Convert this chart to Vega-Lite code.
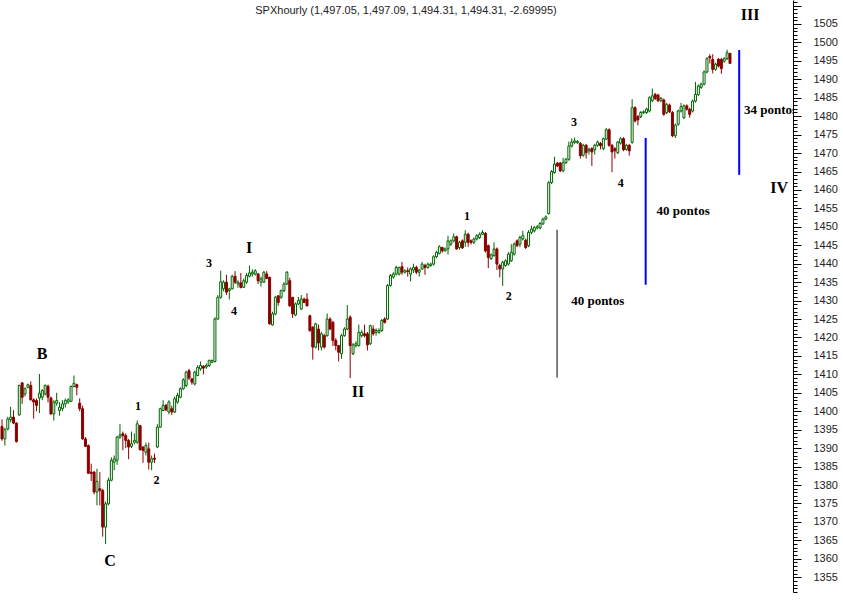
{
"$schema":"https://vega.github.io/schema/vega-lite/v6.json",
"width":792,"height":592,"padding":0,"autosize":{"type":"pad"},"background":"white",
"title":{"text":"SPXhourly (1,497.05, 1,497.09, 1,494.31, 1,494.31, -2.69995)","font":"Liberation Sans","fontSize":11,"fontWeight":"normal","color":"#222","offset":-16,"dx":9,"anchor":"middle","frame":"group"},
"config":{"view":{"stroke":null}},
"datasets":{
"candles":[
{"t":1,"o":1395.9,"h":1397.8,"l":1392.0,"c":1392.5},
{"t":2,"o":1392.5,"h":1395.5,"l":1390.7,"c":1395.0},
{"t":3,"o":1395.2,"h":1398.5,"l":1394.8,"c":1397.9},
{"t":4,"o":1397.7,"h":1401.2,"l":1397.0,"c":1398.4},
{"t":5,"o":1398.4,"h":1400.3,"l":1396.5,"c":1396.8},
{"t":6,"o":1396.8,"h":1397.0,"l":1391.5,"c":1391.8},
{"t":7,"o":1399.0,"h":1407.2,"l":1398.8,"c":1407.0},
{"t":8,"o":1407.7,"h":1407.9,"l":1402.0,"c":1403.8},
{"t":9,"o":1404.7,"h":1406.5,"l":1404.0,"c":1406.1},
{"t":10,"o":1406.5,"h":1407.5,"l":1406.2,"c":1407.2},
{"t":11,"o":1407.0,"h":1408.1,"l":1402.9,"c":1403.1},
{"t":12,"o":1403.1,"h":1403.5,"l":1398.0,"c":1402.5},
{"t":13,"o":1402.9,"h":1403.5,"l":1400.0,"c":1401.6},
{"t":14,"o":1403.6,"h":1410.1,"l":1399.5,"c":1404.9},
{"t":15,"o":1403.8,"h":1406.0,"l":1403.0,"c":1405.6},
{"t":16,"o":1404.7,"h":1407.3,"l":1404.3,"c":1407.0},
{"t":17,"o":1406.8,"h":1407.2,"l":1402.4,"c":1403.8},
{"t":18,"o":1403.6,"h":1404.0,"l":1399.0,"c":1399.3},
{"t":19,"o":1399.3,"h":1403.0,"l":1397.5,"c":1402.5},
{"t":20,"o":1402.2,"h":1405.0,"l":1401.5,"c":1402.9},
{"t":21,"o":1400.2,"h":1402.5,"l":1398.8,"c":1401.1},
{"t":22,"o":1400.7,"h":1403.0,"l":1400.0,"c":1402.0},
{"t":23,"o":1402.0,"h":1403.5,"l":1401.0,"c":1402.9},
{"t":24,"o":1402.5,"h":1403.5,"l":1402.0,"c":1403.1},
{"t":25,"o":1402.7,"h":1407.0,"l":1402.5,"c":1406.7},
{"t":26,"o":1406.7,"h":1409.7,"l":1406.5,"c":1407.6},
{"t":27,"o":1407.2,"h":1407.5,"l":1404.3,"c":1406.5},
{"t":28,"o":1402.2,"h":1403.5,"l":1400.0,"c":1400.7},
{"t":29,"o":1400.7,"h":1401.5,"l":1392.3,"c":1392.5},
{"t":30,"o":1392.5,"h":1393.0,"l":1390.3,"c":1390.5},
{"t":31,"o":1390.7,"h":1391.0,"l":1383.0,"c":1383.2},
{"t":32,"o":1383.5,"h":1385.8,"l":1381.1,"c":1383.1},
{"t":33,"o":1383.5,"h":1383.8,"l":1377.5,"c":1378.1},
{"t":34,"o":1378.1,"h":1384.4,"l":1374.5,"c":1381.0},
{"t":35,"o":1379.0,"h":1383.5,"l":1374.5,"c":1378.5},
{"t":36,"o":1378.5,"h":1379.0,"l":1366.0,"c":1368.6},
{"t":37,"o":1368.6,"h":1375.5,"l":1364.0,"c":1374.9},
{"t":38,"o":1374.9,"h":1382.0,"l":1374.5,"c":1381.3},
{"t":39,"o":1381.3,"h":1387.5,"l":1381.0,"c":1386.7},
{"t":40,"o":1386.2,"h":1388.0,"l":1384.0,"c":1387.1},
{"t":41,"o":1386.7,"h":1393.3,"l":1385.5,"c":1393.0},
{"t":42,"o":1393.0,"h":1396.5,"l":1392.5,"c":1393.6},
{"t":43,"o":1393.9,"h":1394.5,"l":1389.4,"c":1393.4},
{"t":44,"o":1393.4,"h":1394.0,"l":1390.0,"c":1392.1},
{"t":45,"o":1392.1,"h":1392.5,"l":1387.0,"c":1390.3},
{"t":46,"o":1390.5,"h":1394.5,"l":1390.0,"c":1391.2},
{"t":47,"o":1391.6,"h":1394.0,"l":1391.0,"c":1392.1},
{"t":48,"o":1391.6,"h":1397.5,"l":1391.2,"c":1396.6},
{"t":49,"o":1396.1,"h":1396.3,"l":1389.3,"c":1389.6},
{"t":50,"o":1390.3,"h":1390.5,"l":1386.0,"c":1389.4},
{"t":51,"o":1388.9,"h":1391.5,"l":1388.0,"c":1390.7},
{"t":52,"o":1389.8,"h":1391.5,"l":1384.2,"c":1386.2},
{"t":53,"o":1386.2,"h":1388.0,"l":1384.0,"c":1387.1},
{"t":54,"o":1387.3,"h":1388.5,"l":1386.0,"c":1387.0},
{"t":55,"o":1390.3,"h":1396.5,"l":1390.0,"c":1395.7},
{"t":56,"o":1395.7,"h":1401.0,"l":1395.5,"c":1400.7},
{"t":57,"o":1400.2,"h":1403.0,"l":1400.0,"c":1401.6},
{"t":58,"o":1401.6,"h":1402.0,"l":1400.0,"c":1400.4},
{"t":59,"o":1399.8,"h":1403.0,"l":1399.2,"c":1402.5},
{"t":60,"o":1400.7,"h":1401.5,"l":1399.0,"c":1399.8},
{"t":61,"o":1399.8,"h":1404.0,"l":1399.5,"c":1403.4},
{"t":62,"o":1402.5,"h":1405.0,"l":1402.0,"c":1404.3},
{"t":63,"o":1403.8,"h":1406.5,"l":1403.5,"c":1406.1},
{"t":64,"o":1406.1,"h":1409.0,"l":1405.8,"c":1408.5},
{"t":65,"o":1407.0,"h":1411.0,"l":1406.5,"c":1410.6},
{"t":66,"o":1411.0,"h":1411.5,"l":1408.5,"c":1409.0},
{"t":67,"o":1408.8,"h":1409.0,"l":1407.2,"c":1407.9},
{"t":68,"o":1407.4,"h":1411.0,"l":1407.0,"c":1410.6},
{"t":69,"o":1409.7,"h":1412.5,"l":1409.5,"c":1411.9},
{"t":70,"o":1411.5,"h":1413.5,"l":1411.0,"c":1412.4},
{"t":71,"o":1412.2,"h":1412.5,"l":1410.0,"c":1411.7},
{"t":72,"o":1412.0,"h":1413.0,"l":1411.5,"c":1412.4},
{"t":73,"o":1412.4,"h":1414.0,"l":1412.0,"c":1413.8},
{"t":74,"o":1413.3,"h":1414.0,"l":1413.0,"c":1413.8},
{"t":75,"o":1413.5,"h":1425.5,"l":1413.2,"c":1425.0},
{"t":76,"o":1425.0,"h":1431.5,"l":1424.8,"c":1430.9},
{"t":77,"o":1430.9,"h":1438.1,"l":1430.5,"c":1435.1},
{"t":78,"o":1433.2,"h":1435.5,"l":1432.5,"c":1435.0},
{"t":79,"o":1435.0,"h":1437.0,"l":1431.5,"c":1432.3},
{"t":80,"o":1432.7,"h":1433.5,"l":1430.3,"c":1433.2},
{"t":81,"o":1433.2,"h":1437.0,"l":1433.0,"c":1436.6},
{"t":82,"o":1436.6,"h":1438.0,"l":1434.5,"c":1435.0},
{"t":83,"o":1434.5,"h":1435.5,"l":1433.5,"c":1435.0},
{"t":84,"o":1434.8,"h":1437.5,"l":1433.3,"c":1433.6},
{"t":85,"o":1433.6,"h":1436.0,"l":1433.5,"c":1435.4},
{"t":86,"o":1435.0,"h":1437.5,"l":1434.5,"c":1436.8},
{"t":87,"o":1436.6,"h":1439.5,"l":1436.3,"c":1437.5},
{"t":88,"o":1437.2,"h":1438.5,"l":1436.5,"c":1437.7},
{"t":89,"o":1437.2,"h":1438.5,"l":1436.8,"c":1438.1},
{"t":90,"o":1437.2,"h":1437.5,"l":1434.5,"c":1435.4},
{"t":91,"o":1435.0,"h":1436.5,"l":1433.8,"c":1435.9},
{"t":92,"o":1435.0,"h":1438.0,"l":1434.8,"c":1437.7},
{"t":93,"o":1437.2,"h":1438.0,"l":1435.8,"c":1436.0},
{"t":94,"o":1436.3,"h":1436.5,"l":1423.5,"c":1423.7},
{"t":95,"o":1423.4,"h":1427.0,"l":1423.2,"c":1426.4},
{"t":96,"o":1426.4,"h":1431.3,"l":1426.0,"c":1430.9},
{"t":97,"o":1431.3,"h":1431.5,"l":1428.6,"c":1429.5},
{"t":98,"o":1430.9,"h":1433.0,"l":1430.5,"c":1432.7},
{"t":99,"o":1432.7,"h":1435.0,"l":1432.3,"c":1434.5},
{"t":100,"o":1434.5,"h":1438.0,"l":1434.2,"c":1437.7},
{"t":101,"o":1435.4,"h":1436.2,"l":1428.3,"c":1428.6},
{"t":102,"o":1430.9,"h":1431.0,"l":1425.3,"c":1426.4},
{"t":103,"o":1426.1,"h":1429.5,"l":1425.8,"c":1429.1},
{"t":104,"o":1429.1,"h":1431.0,"l":1428.8,"c":1430.0},
{"t":105,"o":1427.7,"h":1431.5,"l":1427.5,"c":1430.4},
{"t":106,"o":1430.4,"h":1430.8,"l":1429.3,"c":1429.5},
{"t":107,"o":1430.4,"h":1432.0,"l":1428.4,"c":1428.6},
{"t":108,"o":1425.9,"h":1426.2,"l":1421.5,"c":1421.9},
{"t":109,"o":1422.8,"h":1423.0,"l":1414.0,"c":1417.4},
{"t":110,"o":1417.4,"h":1424.0,"l":1417.0,"c":1423.7},
{"t":111,"o":1422.3,"h":1423.5,"l":1416.5,"c":1418.5},
{"t":112,"o":1417.4,"h":1421.5,"l":1416.5,"c":1421.0},
{"t":113,"o":1420.5,"h":1421.0,"l":1417.0,"c":1417.4},
{"t":114,"o":1420.5,"h":1426.5,"l":1420.2,"c":1425.0},
{"t":115,"o":1425.0,"h":1425.5,"l":1422.0,"c":1422.3},
{"t":116,"o":1424.1,"h":1424.5,"l":1417.7,"c":1419.2},
{"t":117,"o":1419.2,"h":1419.8,"l":1416.5,"c":1417.8},
{"t":118,"o":1417.8,"h":1418.0,"l":1413.5,"c":1416.0},
{"t":119,"o":1415.6,"h":1421.0,"l":1414.2,"c":1420.5},
{"t":120,"o":1420.5,"h":1422.8,"l":1420.2,"c":1422.3},
{"t":121,"o":1422.3,"h":1428.8,"l":1422.0,"c":1425.0},
{"t":122,"o":1425.5,"h":1426.0,"l":1409.0,"c":1417.8},
{"t":123,"o":1415.6,"h":1418.5,"l":1415.2,"c":1418.0},
{"t":124,"o":1417.8,"h":1419.0,"l":1417.3,"c":1418.3},
{"t":125,"o":1417.8,"h":1423.5,"l":1417.5,"c":1421.4},
{"t":126,"o":1420.5,"h":1422.0,"l":1420.0,"c":1421.4},
{"t":127,"o":1421.0,"h":1423.5,"l":1420.0,"c":1420.5},
{"t":128,"o":1421.0,"h":1421.5,"l":1416.5,"c":1418.0},
{"t":129,"o":1418.3,"h":1423.5,"l":1418.0,"c":1423.2},
{"t":130,"o":1422.3,"h":1423.3,"l":1420.5,"c":1421.0},
{"t":131,"o":1421.4,"h":1422.5,"l":1420.5,"c":1421.9},
{"t":132,"o":1421.4,"h":1422.5,"l":1421.0,"c":1421.9},
{"t":133,"o":1421.9,"h":1425.0,"l":1421.5,"c":1424.6},
{"t":134,"o":1425.0,"h":1425.5,"l":1423.8,"c":1424.1},
{"t":135,"o":1425.0,"h":1434.5,"l":1424.8,"c":1434.1},
{"t":136,"o":1434.1,"h":1437.2,"l":1433.8,"c":1436.8},
{"t":137,"o":1436.4,"h":1437.7,"l":1436.0,"c":1437.2},
{"t":138,"o":1437.2,"h":1439.5,"l":1436.8,"c":1439.0},
{"t":139,"o":1437.2,"h":1439.2,"l":1436.8,"c":1439.0},
{"t":140,"o":1439.2,"h":1440.5,"l":1437.0,"c":1437.7},
{"t":141,"o":1437.7,"h":1438.5,"l":1437.3,"c":1438.1},
{"t":142,"o":1438.1,"h":1439.0,"l":1436.5,"c":1437.9},
{"t":143,"o":1437.2,"h":1439.0,"l":1435.2,"c":1438.6},
{"t":144,"o":1438.3,"h":1440.0,"l":1437.5,"c":1439.0},
{"t":145,"o":1439.0,"h":1439.5,"l":1437.2,"c":1437.7},
{"t":146,"o":1437.7,"h":1438.6,"l":1436.5,"c":1438.3},
{"t":147,"o":1438.6,"h":1440.5,"l":1438.3,"c":1439.9},
{"t":148,"o":1439.5,"h":1440.0,"l":1437.0,"c":1439.0},
{"t":149,"o":1439.0,"h":1440.3,"l":1438.6,"c":1439.9},
{"t":150,"o":1439.5,"h":1440.3,"l":1439.2,"c":1439.9},
{"t":151,"o":1439.9,"h":1442.3,"l":1439.5,"c":1441.9},
{"t":152,"o":1441.9,"h":1443.5,"l":1441.5,"c":1443.1},
{"t":153,"o":1442.8,"h":1445.0,"l":1442.5,"c":1444.6},
{"t":154,"o":1444.4,"h":1444.6,"l":1443.0,"c":1443.5},
{"t":155,"o":1443.5,"h":1444.4,"l":1443.3,"c":1444.0},
{"t":156,"o":1444.0,"h":1447.6,"l":1442.5,"c":1446.2},
{"t":157,"o":1445.3,"h":1446.6,"l":1444.8,"c":1446.2},
{"t":158,"o":1446.2,"h":1448.2,"l":1445.8,"c":1447.3},
{"t":159,"o":1447.3,"h":1447.6,"l":1443.8,"c":1444.0},
{"t":160,"o":1444.4,"h":1446.2,"l":1443.8,"c":1445.8},
{"t":161,"o":1446.2,"h":1446.6,"l":1444.0,"c":1444.3},
{"t":162,"o":1445.8,"h":1449.1,"l":1444.6,"c":1448.0},
{"t":163,"o":1448.0,"h":1448.4,"l":1444.6,"c":1445.8},
{"t":164,"o":1446.2,"h":1446.6,"l":1445.2,"c":1445.8},
{"t":165,"o":1445.8,"h":1447.1,"l":1445.3,"c":1446.7},
{"t":166,"o":1446.7,"h":1448.0,"l":1446.3,"c":1447.6},
{"t":167,"o":1447.1,"h":1448.5,"l":1446.7,"c":1448.0},
{"t":168,"o":1448.0,"h":1449.1,"l":1447.8,"c":1448.5},
{"t":169,"o":1448.2,"h":1448.6,"l":1443.0,"c":1443.5},
{"t":170,"o":1444.9,"h":1445.2,"l":1438.8,"c":1441.7},
{"t":171,"o":1441.4,"h":1442.8,"l":1441.0,"c":1442.4},
{"t":172,"o":1442.2,"h":1445.8,"l":1441.9,"c":1444.0},
{"t":173,"o":1444.0,"h":1444.4,"l":1438.3,"c":1439.9},
{"t":174,"o":1439.5,"h":1440.0,"l":1436.3,"c":1438.6},
{"t":175,"o":1438.6,"h":1440.8,"l":1434.0,"c":1440.4},
{"t":176,"o":1439.5,"h":1441.2,"l":1439.2,"c":1440.8},
{"t":177,"o":1439.9,"h":1443.1,"l":1439.5,"c":1442.6},
{"t":178,"o":1440.8,"h":1445.3,"l":1440.5,"c":1443.1},
{"t":179,"o":1442.6,"h":1445.8,"l":1442.2,"c":1445.3},
{"t":180,"o":1446.2,"h":1446.6,"l":1444.5,"c":1444.9},
{"t":181,"o":1445.3,"h":1447.6,"l":1444.5,"c":1447.1},
{"t":182,"o":1446.7,"h":1448.9,"l":1446.3,"c":1447.6},
{"t":183,"o":1446.4,"h":1446.8,"l":1444.0,"c":1444.4},
{"t":184,"o":1444.9,"h":1449.1,"l":1444.5,"c":1448.5},
{"t":185,"o":1448.5,"h":1450.3,"l":1448.0,"c":1449.4},
{"t":186,"o":1448.9,"h":1450.2,"l":1448.5,"c":1449.8},
{"t":187,"o":1449.7,"h":1450.5,"l":1449.3,"c":1450.0},
{"t":188,"o":1449.7,"h":1451.3,"l":1449.3,"c":1450.9},
{"t":189,"o":1450.8,"h":1452.5,"l":1450.5,"c":1452.1},
{"t":190,"o":1452.1,"h":1453.1,"l":1451.8,"c":1452.7},
{"t":191,"o":1453.6,"h":1462.4,"l":1453.3,"c":1462.0},
{"t":192,"o":1462.0,"h":1465.4,"l":1461.6,"c":1465.0},
{"t":193,"o":1464.7,"h":1469.0,"l":1464.4,"c":1467.0},
{"t":194,"o":1467.3,"h":1467.6,"l":1466.2,"c":1466.5},
{"t":195,"o":1467.3,"h":1467.6,"l":1464.8,"c":1465.2},
{"t":196,"o":1465.2,"h":1468.7,"l":1464.8,"c":1467.4},
{"t":197,"o":1467.4,"h":1468.7,"l":1467.0,"c":1468.3},
{"t":198,"o":1468.3,"h":1473.1,"l":1467.9,"c":1471.9},
{"t":199,"o":1471.9,"h":1474.0,"l":1471.5,"c":1473.0},
{"t":200,"o":1472.9,"h":1474.2,"l":1472.5,"c":1473.3},
{"t":201,"o":1472.8,"h":1473.5,"l":1472.5,"c":1473.2},
{"t":202,"o":1472.6,"h":1473.0,"l":1468.5,"c":1469.3},
{"t":203,"o":1469.4,"h":1472.5,"l":1469.0,"c":1472.1},
{"t":204,"o":1472.1,"h":1472.5,"l":1468.5,"c":1470.1},
{"t":205,"o":1470.6,"h":1471.5,"l":1469.6,"c":1471.0},
{"t":206,"o":1471.2,"h":1471.6,"l":1466.5,"c":1470.3},
{"t":207,"o":1470.9,"h":1472.5,"l":1469.6,"c":1472.1},
{"t":208,"o":1472.1,"h":1473.4,"l":1471.7,"c":1473.0},
{"t":209,"o":1472.6,"h":1473.0,"l":1471.0,"c":1472.0},
{"t":210,"o":1471.2,"h":1474.2,"l":1470.8,"c":1473.9},
{"t":211,"o":1473.8,"h":1476.8,"l":1473.5,"c":1476.3},
{"t":212,"o":1476.3,"h":1476.7,"l":1471.7,"c":1472.1},
{"t":213,"o":1472.1,"h":1472.5,"l":1464.8,"c":1470.3},
{"t":214,"o":1471.2,"h":1471.6,"l":1468.5,"c":1470.6},
{"t":215,"o":1470.1,"h":1473.3,"l":1469.7,"c":1473.0},
{"t":216,"o":1472.7,"h":1474.3,"l":1472.3,"c":1473.9},
{"t":217,"o":1473.9,"h":1474.3,"l":1470.5,"c":1470.9},
{"t":218,"o":1471.0,"h":1472.5,"l":1470.6,"c":1472.1},
{"t":219,"o":1472.1,"h":1472.5,"l":1469.3,"c":1470.6},
{"t":220,"o":1472.9,"h":1484.6,"l":1472.5,"c":1482.3},
{"t":221,"o":1482.3,"h":1482.7,"l":1478.3,"c":1478.7},
{"t":222,"o":1479.9,"h":1480.3,"l":1477.5,"c":1479.0},
{"t":223,"o":1479.9,"h":1481.4,"l":1479.5,"c":1481.0},
{"t":224,"o":1481.0,"h":1481.6,"l":1480.6,"c":1481.2},
{"t":225,"o":1481.0,"h":1482.3,"l":1480.6,"c":1481.9},
{"t":226,"o":1481.4,"h":1485.4,"l":1481.0,"c":1485.0},
{"t":227,"o":1484.2,"h":1487.5,"l":1483.8,"c":1485.5},
{"t":228,"o":1485.9,"h":1486.3,"l":1484.4,"c":1484.8},
{"t":229,"o":1485.7,"h":1486.1,"l":1483.8,"c":1484.2},
{"t":230,"o":1484.2,"h":1485.2,"l":1483.8,"c":1484.8},
{"t":231,"o":1484.4,"h":1484.8,"l":1480.1,"c":1480.5},
{"t":232,"o":1481.0,"h":1483.6,"l":1480.6,"c":1483.2},
{"t":233,"o":1483.0,"h":1483.4,"l":1480.8,"c":1481.2},
{"t":234,"o":1481.0,"h":1481.4,"l":1474.3,"c":1474.7},
{"t":235,"o":1474.7,"h":1478.0,"l":1474.1,"c":1477.6},
{"t":236,"o":1477.8,"h":1481.8,"l":1477.4,"c":1481.4},
{"t":237,"o":1481.4,"h":1483.6,"l":1481.0,"c":1482.6},
{"t":238,"o":1479.6,"h":1483.2,"l":1479.2,"c":1482.8},
{"t":239,"o":1482.8,"h":1483.2,"l":1481.5,"c":1481.9},
{"t":240,"o":1481.9,"h":1482.3,"l":1479.6,"c":1480.5},
{"t":241,"o":1481.4,"h":1484.5,"l":1481.0,"c":1484.1},
{"t":242,"o":1484.1,"h":1489.3,"l":1483.7,"c":1485.9},
{"t":243,"o":1485.9,"h":1488.6,"l":1485.5,"c":1488.2},
{"t":244,"o":1487.8,"h":1489.1,"l":1487.4,"c":1488.7},
{"t":245,"o":1488.7,"h":1492.4,"l":1488.3,"c":1492.0},
{"t":246,"o":1492.0,"h":1496.0,"l":1491.6,"c":1495.6},
{"t":247,"o":1496.2,"h":1496.8,"l":1494.3,"c":1495.8},
{"t":248,"o":1495.4,"h":1496.8,"l":1491.6,"c":1492.7},
{"t":249,"o":1492.7,"h":1494.5,"l":1492.3,"c":1494.1},
{"t":250,"o":1495.4,"h":1495.8,"l":1493.2,"c":1493.6},
{"t":251,"o":1495.4,"h":1495.8,"l":1491.5,"c":1492.9},
{"t":252,"o":1494.9,"h":1496.0,"l":1494.5,"c":1495.6},
{"t":253,"o":1495.6,"h":1498.0,"l":1495.2,"c":1497.2},
{"t":254,"o":1497.05,"h":1497.09,"l":1494.31,"c":1494.31}
],
"big":[
{"t":14.9,"p":1415.6,"txt":"B"},
{"t":38.5,"p":1359.3,"txt":"C"},
{"t":86.9,"p":1444.35,"txt":"I"},
{"t":124.7,"p":1405.1,"txt":"II"},
{"t":261.0,"p":1507.4,"txt":"III"},
{"t":271.1,"p":1460.6,"txt":"IV"}
],
"small":[
{"t":48.3,"p":1401.3,"txt":"1"},
{"t":54.7,"p":1381.5,"txt":"2"},
{"t":72.9,"p":1440.3,"txt":"3"},
{"t":81.6,"p":1427.3,"txt":"4"},
{"t":162.6,"p":1453.0,"txt":"1"},
{"t":177.1,"p":1431.35,"txt":"2"},
{"t":199.8,"p":1478.5,"txt":"3"},
{"t":216.0,"p":1461.95,"txt":"4"}
],
"pontos":[
{"t":198.8,"p":1430.0,"txt":"40 pontos"},
{"t":228.5,"p":1454.4,"txt":"40 pontos"},
{"t":258.9,"p":1481.7,"txt":"34 pontos"}
],
"blackline":[{"t":193.9,"p1":1449.2,"p2":1409.1}],
"bluelines":[
{"t":224.7,"p1":1474.1,"p2":1434.3},
{"t":257.2,"p1":1497.96,"p2":1464.1}
]
},
"layer":[
{"data":{"name":"candles"},"mark":{"type":"rule","strokeWidth":1},
"encoding":{
"x":{"field":"t","type":"quantitative","scale":{"domain":[0.65,275.9],"nice":false,"zero":false,"padding":0},"axis":null},
"y":{"field":"l","type":"quantitative","scale":{"domain":[1351.0,1511.5],"nice":false,"zero":false,"padding":0},
"axis":{"orient":"right","title":null,"grid":false,"tickCount":160,"format":"d",
"labelExpr":"(datum.value % 5 === 0 && datum.value <= 1505) ? datum.label : ''",
"labelFontSize":{"condition":{"test":"datum.value % 5 === 0 && datum.value <= 1505","value":11},"value":0},
"tickSize":{"condition":{"test":"datum.value % 5 === 0","value":8},"value":4},
"labelPadding":12,"labelOverlap":false,"labelFlush":false,"labelBound":false,
"labelFont":"Liberation Sans","labelColor":"#222",
"domainColor":"black","tickColor":"black","domainWidth":1,"tickWidth":1}},
"y2":{"field":"h"},
"color":{"condition":{"test":"datum.c >= datum.o","value":"#006400"},"value":"#8b0000"}}},
{"data":{"name":"candles"},"mark":{"type":"bar","size":2,"strokeWidth":1},
"encoding":{
"x":{"field":"t","type":"quantitative"},
"y":{"field":"o","type":"quantitative"},
"y2":{"field":"c"},
"fill":{"condition":{"test":"datum.c >= datum.o","value":"white"},"value":"#8b0000"},
"stroke":{"condition":{"test":"datum.c >= datum.o","value":"#006400"},"value":"#8b0000"}}},
{"data":{"name":"blackline"},"mark":{"type":"rule","color":"black","strokeWidth":1},
"encoding":{"x":{"field":"t","type":"quantitative"},"y":{"field":"p1","type":"quantitative"},"y2":{"field":"p2"}}},
{"data":{"name":"bluelines"},"mark":{"type":"rule","color":"#0000ff","strokeWidth":2},
"encoding":{"x":{"field":"t","type":"quantitative"},"y":{"field":"p1","type":"quantitative"},"y2":{"field":"p2"}}},
{"data":{"name":"big"},"mark":{"type":"text","font":"Liberation Serif","fontWeight":"bold","fontSize":16,"align":"center","baseline":"middle","color":"black"},
"encoding":{"x":{"field":"t","type":"quantitative"},"y":{"field":"p","type":"quantitative"},"text":{"field":"txt"}}},
{"data":{"name":"small"},"mark":{"type":"text","font":"Liberation Serif","fontWeight":"bold","fontSize":12,"align":"center","baseline":"middle","color":"black"},
"encoding":{"x":{"field":"t","type":"quantitative"},"y":{"field":"p","type":"quantitative"},"text":{"field":"txt"}}},
{"data":{"name":"pontos"},"mark":{"type":"text","font":"Liberation Serif","fontWeight":"bold","fontSize":13,"align":"left","baseline":"middle","color":"black","clip":true},
"encoding":{"x":{"field":"t","type":"quantitative"},"y":{"field":"p","type":"quantitative"},"text":{"field":"txt"}}}
]
}
